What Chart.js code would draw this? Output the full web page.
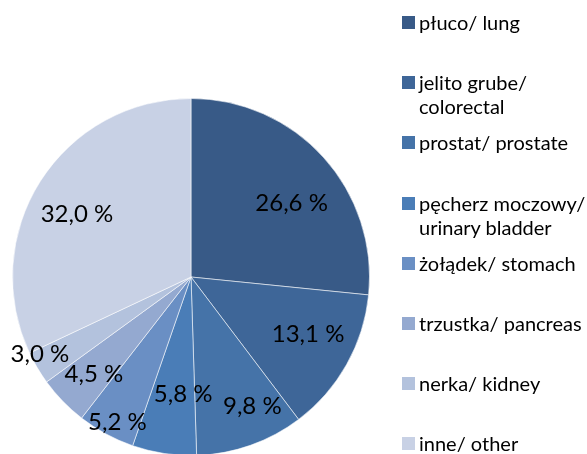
<!DOCTYPE html>
<html>
<head>
<meta charset="utf-8">
<script src="https://cdn.jsdelivr.net/npm/chart.js@4"></script>
<style>
  html, body { margin: 0; padding: 0; background: #fff; overflow: hidden; }
  #wrap { position: relative; width: 587px; height: 454px; overflow: hidden; }
  #chart { position: absolute; left: 0; top: 0; }
  #legend { position: absolute; left: 402px; top: 10px; font-family: Lato, sans-serif; font-size: 20px; color: #000; }
  .item { height: 60.2px; display: flex; align-items: flex-start; }
  .box { width: 13px; height: 13px; margin-top: 6px; margin-right: 4px; flex: none; }
  .txt { line-height: 24px; white-space: nowrap; }
</style>
</head>
<body>
<div id="wrap">
  <canvas id="chart" width="587" height="460"></canvas>
  <div id="legend"></div>
</div>
<script>
// dane
const labels = [
  "płuco/ lung",
  ["jelito grube/", "colorectal"],
  "prostat/ prostate",
  ["pęcherz moczowy/", "urinary bladder"],
  "żołądek/ stomach",
  "trzustka/ pancreas",
  "nerka/ kidney",
  "inne/ other",
];
const values = [26.6, 13.1, 9.8, 5.8, 5.2, 4.5, 3.0, 32.0];
const colors = ["#385A87", "#3E6698", "#4573A8", "#4A7DB7", "#6A8FC4", "#94A9D0", "#B3C2DD", "#C8D1E5"];

// gdzie stoi etykieta: ulamek promienia i ulamek kata wycinka
const labelRad = [0.70, 0.73, 0.80, 0.66, 0.91, 0.77, 0.95, 0.73];
const labelAng = [0.56, 0.43, 0.33, 0.27, 0.42, 0.44, 0.83, 0.47];

const pctLabels = {
  id: "pctLabels",
  afterDatasetsDraw(chart) {
    const ctx = chart.ctx;
    const arcs = chart.getDatasetMeta(0).data;
    ctx.save();
    ctx.font = "24px Lato, sans-serif";
    ctx.fillStyle = "#000";
    ctx.textAlign = "center";
    ctx.textBaseline = "middle";
    arcs.forEach((arc, i) => {
      const p = arc.getProps(["x", "y", "startAngle", "endAngle", "outerRadius"], true);
      const a = p.startAngle + (p.endAngle - p.startAngle) * labelAng[i];
      const r = p.outerRadius * labelRad[i];
      const txt = values[i].toFixed(1).replace(".", ",") + " %";
      ctx.fillText(txt, p.x + Math.cos(a) * r, p.y + Math.sin(a) * r);
    });
    ctx.restore();
  },
};

const ctx = document.getElementById("chart").getContext("2d");

new Chart(ctx, {
  type: "pie",
  data: {
    labels: labels,
    datasets: [
      {
        data: values,
        backgroundColor: colors,
        borderColor: "rgba(255,255,255,0.55)",
        borderWidth: 1,
      },
    ],
  },
  options: {
    responsive: false,
    animation: false,
    layout: { padding: { left: 12, right: 217, top: 98, bottom: 4 } },
    plugins: {
      legend: { display: false },
      tooltip: { enabled: false },
    },
  },
  plugins: [pctLabels],
});

// legenda w HTML
const legend = document.getElementById("legend");
labels.forEach((lab, i) => {
  const item = document.createElement("div");
  item.className = "item";
  const box = document.createElement("div");
  box.className = "box";
  box.style.background = colors[i];
  const txt = document.createElement("div");
  txt.className = "txt";
  txt.innerHTML = (Array.isArray(lab) ? lab : [lab]).join("<br>");
  item.appendChild(box);
  item.appendChild(txt);
  legend.appendChild(item);
});
</script>
</body>
</html>
